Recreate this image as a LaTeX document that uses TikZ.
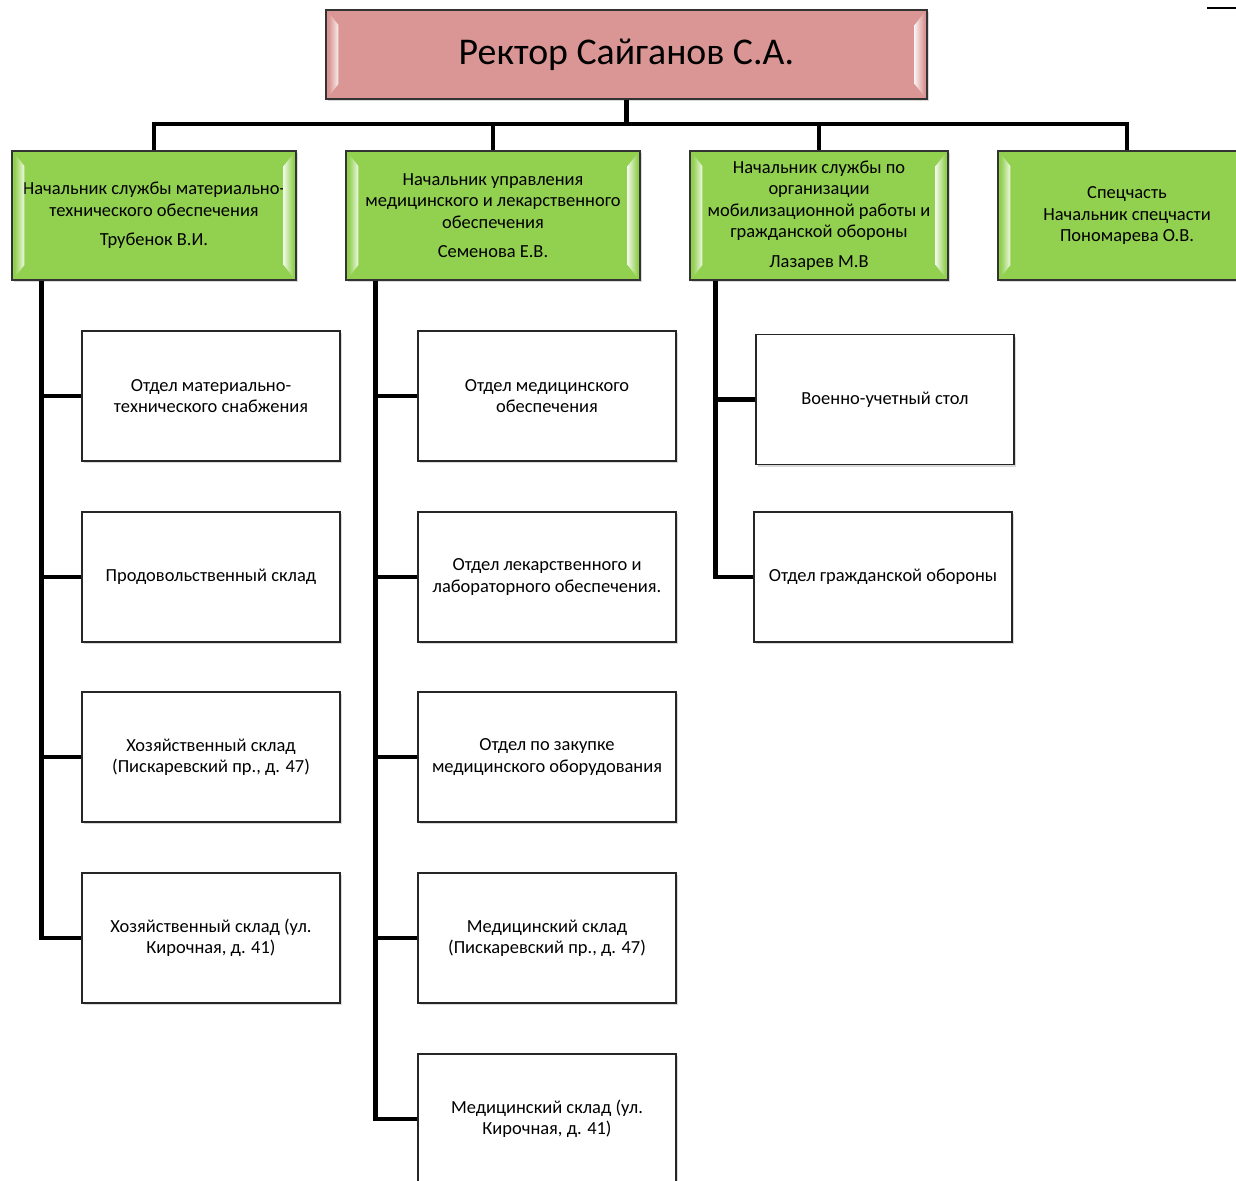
\documentclass[tikz,border=0pt]{standalone}
\usepackage{fontspec}
\setmainfont{Carlito}
\usetikzlibrary{shadows}
\definecolor{rektorpink}{HTML}{D99694}
\definecolor{chiefgreen}{HTML}{92D050}
\tikzset{
  bevel/.style={draw=black!80, line width=0.9pt, fill=#1, align=center, inner sep=2pt,
    drop shadow={shadow xshift=1.2pt, shadow yshift=-1.2pt, opacity=0.3}},
  chief/.style={bevel=chiefgreen, minimum height=2.58cm, font=\fontsize{10.5}{12.2}\selectfont},
  dept/.style={draw=black!85, line width=0.9pt, fill=white, minimum width=5.16cm,
    minimum height=2.6cm, align=center, font=\fontsize{10.5}{12.2}\selectfont,
    drop shadow={shadow xshift=1.2pt, shadow yshift=-1.2pt, opacity=0.3}},
  link/.style={line width=2.8pt, black},
}
\begin{document}
\begin{tikzpicture}[x=0.02cm, y=-0.02cm]
\useasboundingbox (0,0) rectangle (1236,1180);
% rector and chiefs
\node[bevel=rektorpink, minimum width=12.02cm, minimum height=1.78cm,
      font=\fontsize{21.5}{26}\selectfont] (rektor) at (626.5,54.5) {Ректор Сайганов С.А.};
\node[chief, minimum width=5.68cm] (mto) at (154,215.5)
  {Начальник службы материально-\\технического обеспечения\\[4.5pt]Трубенок В.И.};
\node[chief, minimum width=5.88cm] (med) at (493,215.5)
  {Начальник управления\\медицинского и лекарственного\\обеспечения\\[4.5pt]Семенова Е.В.};
\node[chief, minimum width=5.16cm] (mob) at (819,215.5)
  {Начальник службы по\\организации\\мобилизационной работы и\\гражданской обороны\\[4.5pt]Лазарев М.В};
\node[chief, minimum width=5.16cm] (spec) at (1127,215.5)
  {Спецчасть\\Начальник спецчасти\\Пономарева О.В.};
% bevel highlights
\foreach \n/\c in {rektor/rektorpink, mto/chiefgreen, med/chiefgreen, mob/chiefgreen, spec/chiefgreen}{
  \shade[left color=\c, right color=\c!15!white]
    ([shift={(2pt,2pt)}]\n.south west) -- ([shift={(2pt,-2pt)}]\n.north west) --
    ([shift={(7.5pt,-9pt)}]\n.north west) -- ([shift={(7.5pt,9pt)}]\n.south west) -- cycle;
  \shade[left color=\c!15!white, right color=\c]
    ([shift={(-2pt,2pt)}]\n.south east) -- ([shift={(-2pt,-2pt)}]\n.north east) --
    ([shift={(-7.5pt,-9pt)}]\n.north east) -- ([shift={(-7.5pt,9pt)}]\n.south east) -- cycle;
}
% departments
\foreach \y/\name/\txt in {396/mto1/{Отдел материально-\\технического снабжения},
    577/mto2/{Продовольственный склад},
    757/mto3/{Хозяйственный склад\\(Пискаревский пр., д. 47)},
    938/mto4/{Хозяйственный склад (ул.\\Кирочная, д. 41)}}
  \node[dept] (\name) at (211,\y) {\txt};
\foreach \y/\name/\txt in {396/med1/{Отдел медицинского\\обеспечения},
    577/med2/{Отдел лекарственного и\\лабораторного обеспечения.},
    757/med3/{Отдел по закупке\\медицинского оборудования},
    938/med4/{Медицинский склад\\(Пискаревский пр., д. 47)},
    1119/med5/{Медицинский склад (ул.\\Кирочная, д. 41)}}
  \node[dept] (\name) at (547,\y) {\txt};
\node[dept] (mob1) at (885,399.5) {Военно-учетный стол};
\node[dept] (mob2) at (883,577) {Отдел гражданской обороны};
% connectors
\coordinate (bus) at (626,124);
\draw[link] (rektor.south) -- (rektor.south |- bus);
\draw[link] (mto.north) |- (spec.north |- bus) -- (spec.north);
\draw[link] (med.north) -- (med.north |- bus);
\draw[link] (mob.north) -- (mob.north |- bus);
\coordinate (t1) at ([xshift=0.6cm]mto.south west);
\coordinate (t2) at ([xshift=0.6cm]med.south west);
\coordinate (t3) at ([xshift=0.52cm]mob.south west);
\draw[link] (t1) |- (mto4.west);
\foreach \n in {mto1,mto2,mto3}
  \draw[link] (\n.west) -- (\n.west -| t1);
\draw[link] (t2) |- (med5.west);
\foreach \n in {med1,med2,med3,med4}
  \draw[link] (\n.west) -- (\n.west -| t2);
\draw[link] (t3) |- (mob2.west);
\draw[link] (mob1.west) -- (mob1.west -| t3);
\draw[line width=1pt] (1207,8) -- (1236,8);
\end{tikzpicture}
\end{document}
